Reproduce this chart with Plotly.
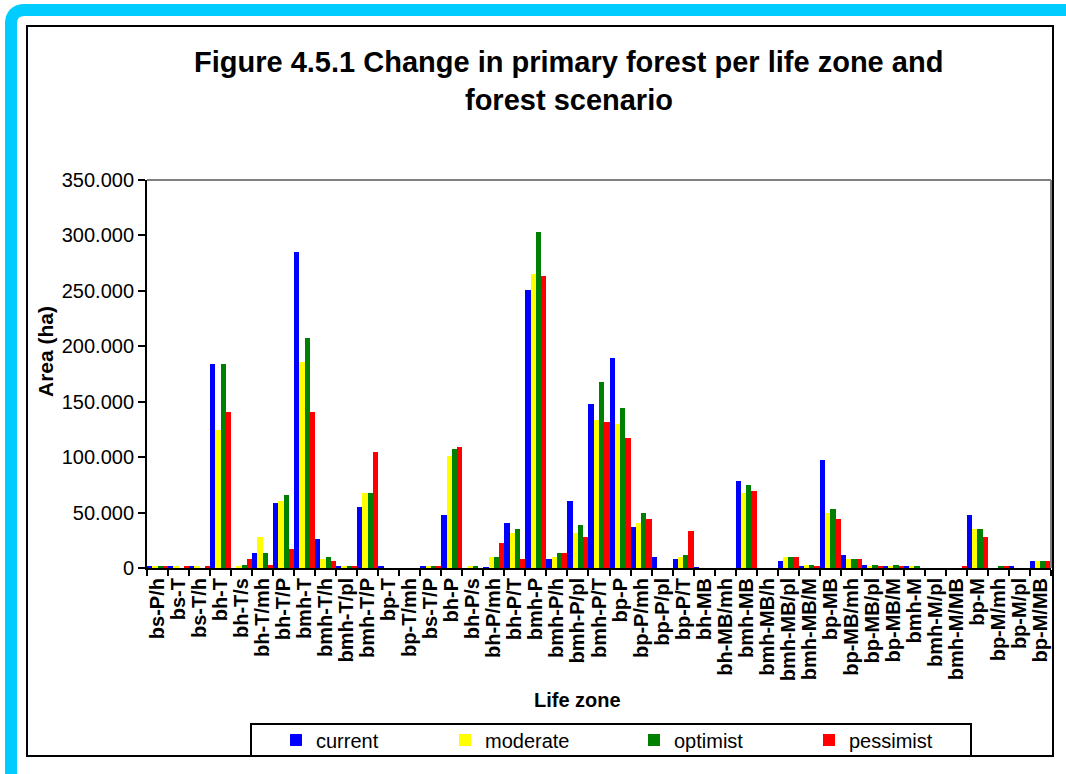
import plotly.graph_objects as go

# Life zones (x categories)
life_zones = [
    "bs-P/h", "bs-T", "bs-T/h", "bh-T", "bh-T/s", "bh-T/mh", "bh-T/P", "bmh-T",
    "bmh-T/h", "bmh-T/pl", "bmh-T/P", "bp-T", "bp-T/mh", "bs-T/P", "bh-P", "bh-P/s",
    "bh-P/mh", "bh-P/T", "bmh-P", "bmh-P/h", "bmh-P/pl", "bmh-P/T", "bp-P", "bp-P/mh",
    "bp-P/pl", "bp-P/T", "bh-MB", "bh-MB/mh", "bmh-MB", "bmh-MB/h", "bmh-MB/pl",
    "bmh-MB/M", "bp-MB", "bp-MB/mh", "bp-MB/pl", "bp-MB/M", "bmh-M", "bmh-M/pl",
    "bmh-M/MB", "bp-M", "bp-M/mh", "bp-M/pl", "bp-M/MB",
]

# Primary forest area (ha) per scenario
current = [1000, 1000, 1000, 183700, 0, 13900, 59000, 285000, 26500, 1200, 55400,
           1200, 0, 1200, 48200, 0, 600, 41000, 250600, 8400, 60800, 147600, 189200,
           37300, 10200, 8400, 600, 0, 78900, 0, 6600, 1200, 97000, 12000, 3000, 1200,
           1200, 0, 0, 48200, 0, 1200, 6600]
moderate = [1200, 1000, 1000, 124100, 1200, 28300, 60800, 185500, 8400, 1200, 68100,
            0, 0, 1200, 100600, 1200, 10200, 31900, 265100, 10200, 31900, 133100,
            129500, 41000, 0, 10200, 0, 0, 68100, 0, 10200, 3000, 50000, 8400, 1200,
            1200, 1200, 0, 0, 35500, 0, 0, 6600]
optimist = [1200, 0, 0, 183700, 3000, 13900, 66300, 207200, 10200, 1200, 68100, 0, 0,
            1200, 107800, 1200, 10200, 35500, 303000, 13900, 39200, 167500, 144000,
            50000, 0, 12000, 0, 0, 75300, 0, 10200, 3000, 53600, 8400, 3000, 3000, 1200,
            0, 0, 35500, 1200, 0, 6600]
pessimist = [1200, 1000, 1000, 140400, 8400, 3000, 17500, 140400, 6600, 1200, 104200,
             0, 0, 1200, 109600, 0, 22900, 8400, 263200, 13900, 28300, 131300, 116900,
             44600, 0, 33700, 0, 0, 69900, 0, 10200, 1200, 44600, 8400, 1200, 1200, 0,
             0, 1200, 28300, 1200, 0, 6600]

series_names = ["current", "moderate", "optimist", "pessimist"]
series_values = [current, moderate, optimist, pessimist]
series_colors = ["#0000FF", "#FFFF00", "#008000", "#FF0000"]
legend_ids = ["legend", "legend2", "legend3", "legend4"]

FONT = "Liberation Sans, Arial, sans-serif"
W, H = 1066, 774
ML, MR, MT, MB = 147, 15, 180, 206
PW, PH = W - ML - MR, H - MT - MB


def px(x):
    return (x - ML) / PW


def py(y):
    return (H - MB - y) / PH


fig = go.Figure()
for name, vals, col, lg in zip(series_names, series_values, series_colors, legend_ids):
    fig.add_trace(go.Bar(x=life_zones, y=vals, name=name, marker_color=col,
                         marker_line_width=0, legend=lg, showlegend=True))

legend_text_x = [316, 485, 674, 849]
legends = {}
for lg, tx in zip(legend_ids, legend_text_x):
    legends[lg] = dict(
        x=px(tx - 40), xanchor="left", y=py(740), yanchor="middle",
        orientation="h", bgcolor="rgba(0,0,0,0)", borderwidth=0,
        font=dict(family=FONT, size=20, color="black"),
    )

shapes = [
    # outer cyan frame
    dict(type="path", xref="paper", yref="paper",
         path=f"M {px(11)},{py(780)} L {px(11)},{py(24)} Q {px(11)},{py(10)} {px(25)},{py(10)} "
              f"L {px(1075)},{py(10)} L {px(1075)},{py(780)}",
         line=dict(color="#00CCFF", width=12)),
    # chart border
    dict(type="rect", xref="paper", yref="paper", x0=px(27), x1=px(1053), y0=py(756), y1=py(26),
         line=dict(color="black", width=2)),
    # plot area top / right border
    dict(type="line", xref="paper", yref="paper", x0=0, x1=1, y0=1, y1=1,
         line=dict(color="#808080", width=2)),
    dict(type="line", xref="paper", yref="paper", x0=1, x1=1, y0=0, y1=1,
         line=dict(color="#808080", width=2)),
    # legend box
    dict(type="rect", xref="paper", yref="paper", x0=px(251), x1=px(971), y0=py(756), y1=py(724),
         line=dict(color="black", width=2)),
]

annotations = [
    dict(text="<b>Figure 4.5.1 Change in primary forest per life zone and</b>",
         xref="paper", yref="paper", x=px(568), y=py(62), xanchor="center", yanchor="middle",
         showarrow=False, font=dict(family=FONT, size=29, color="black")),
    dict(text="<b>forest scenario</b>",
         xref="paper", yref="paper", x=px(569), y=py(100), xanchor="center", yanchor="middle",
         showarrow=False, font=dict(family=FONT, size=29, color="black")),
    dict(text="<b>Area (ha)</b>", textangle=-90,
         xref="paper", yref="paper", x=px(45), y=py(352), xanchor="center", yanchor="middle",
         showarrow=False, font=dict(family=FONT, size=21, color="black")),
    dict(text="<b>Life zone</b>",
         xref="paper", yref="paper", x=px(577), y=py(700), xanchor="center", yanchor="middle",
         showarrow=False, font=dict(family=FONT, size=20, color="black")),
]

fig.update_layout(
    width=W, height=H,
    margin=dict(l=ML, r=MR, t=MT, b=MB),
    paper_bgcolor="white", plot_bgcolor="white",
    barmode="group", bargap=0, bargroupgap=0,
    separators=",.",
    showlegend=True,
    font=dict(family=FONT, color="black"),
    shapes=shapes, annotations=annotations,
    **legends,
)
fig.update_xaxes(
    type="category", tickmode="linear", tick0=0, dtick=1,
    tickangle=-90, tickson="boundaries",
    ticks="outside", ticklen=6, tickwidth=2, tickcolor="black",
    showline=True, linecolor="black", linewidth=2, showgrid=False,
    tickfont=dict(family=FONT, size=20, color="black", weight="bold"),
)
fig.update_yaxes(
    range=[0, 350000], dtick=50000, tickformat=",",
    ticks="outside", ticklen=7, tickwidth=2, tickcolor="black",
    showline=True, linecolor="black", linewidth=2, showgrid=False, zeroline=False,
    tickfont=dict(family=FONT, size=20, color="black"),
)

fig.write_html("out.html")
